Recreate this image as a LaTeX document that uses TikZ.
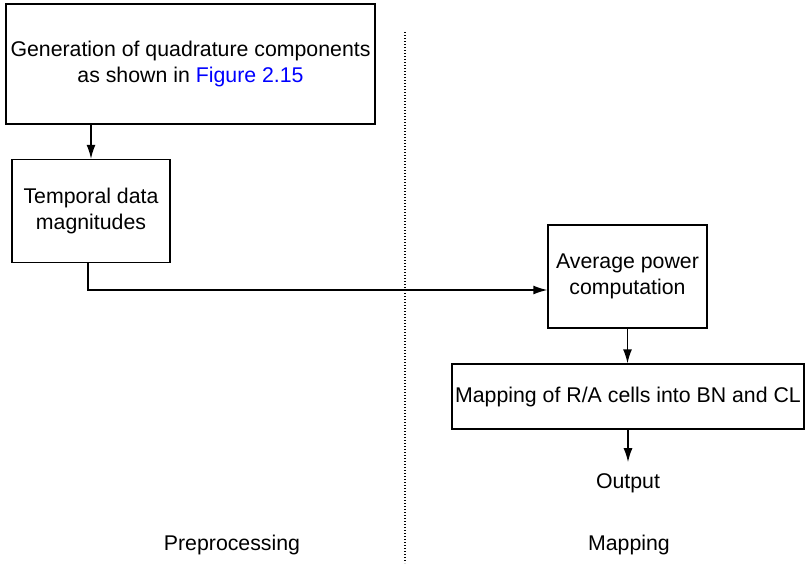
\documentclass[tikz,border=0pt]{standalone}
\usepackage{fontspec}
\setmainfont{Liberation Sans}
\usepackage{xcolor}
\usetikzlibrary{arrows.meta}

\begin{document}
\begin{tikzpicture}[x=1pt, y=-1pt,
        blockbox/.style={draw, line width=1.4pt, align=center, inner sep=0pt,
            font=\fontsize{21.3}{26}\selectfont},
        plaintext/.style={inner sep=0pt, font=\fontsize{21.3}{26}\selectfont},
        flow/.style={line width=1.4pt, -{Latex[length=14pt,width=9pt]}}]
        \useasboundingbox (0,0) rectangle (805,563);
        % Preprocessing side
        \node[blockbox, minimum width=369pt, minimum height=120pt] (gen) at (190.5,64)
            {Generation of quadrature components\\as shown in \textcolor{blue}{Figure 2.15}};
        \node[blockbox, minimum width=158pt, minimum height=103pt] (temporal) at (91,211)
            {Temporal data\\magnitudes};
        % Mapping side
        \node[blockbox, minimum width=159pt, minimum height=103pt] (avgpow) at (627.5,276.5)
            {Average power\\computation};
        \node[blockbox, minimum width=352pt, minimum height=65pt] (mapcells) at (628,396.5)
            {Mapping of R/A cells into BN and CL};
        \node[plaintext, inner sep=11pt] (output) at (628,483) {Output};
        % Section labels and divider
        \node[plaintext] (prelabel) at (232,545) {Preprocessing};
        \node[plaintext] (maplabel) at (629,545) {Mapping};
        \coordinate (divtop) at (405,32);
        \coordinate (divbot) at (405,563);
        \draw[line width=1.3pt, dash pattern=on 1.3pt off 1.7pt] (divtop) -- (divbot);
        % Connectors
        \coordinate (bend) at (0,290);
        \draw[flow] (gen.south -| temporal.north) -- (temporal.north);
        \draw[flow] ([xshift=-3pt]temporal.south) |- (avgpow.west |- bend);
        \draw[flow] (avgpow.south) -- (mapcells.north -| avgpow.south);
        \draw[flow] (mapcells.south) -- (output.north);
    \end{tikzpicture}
\end{document}
